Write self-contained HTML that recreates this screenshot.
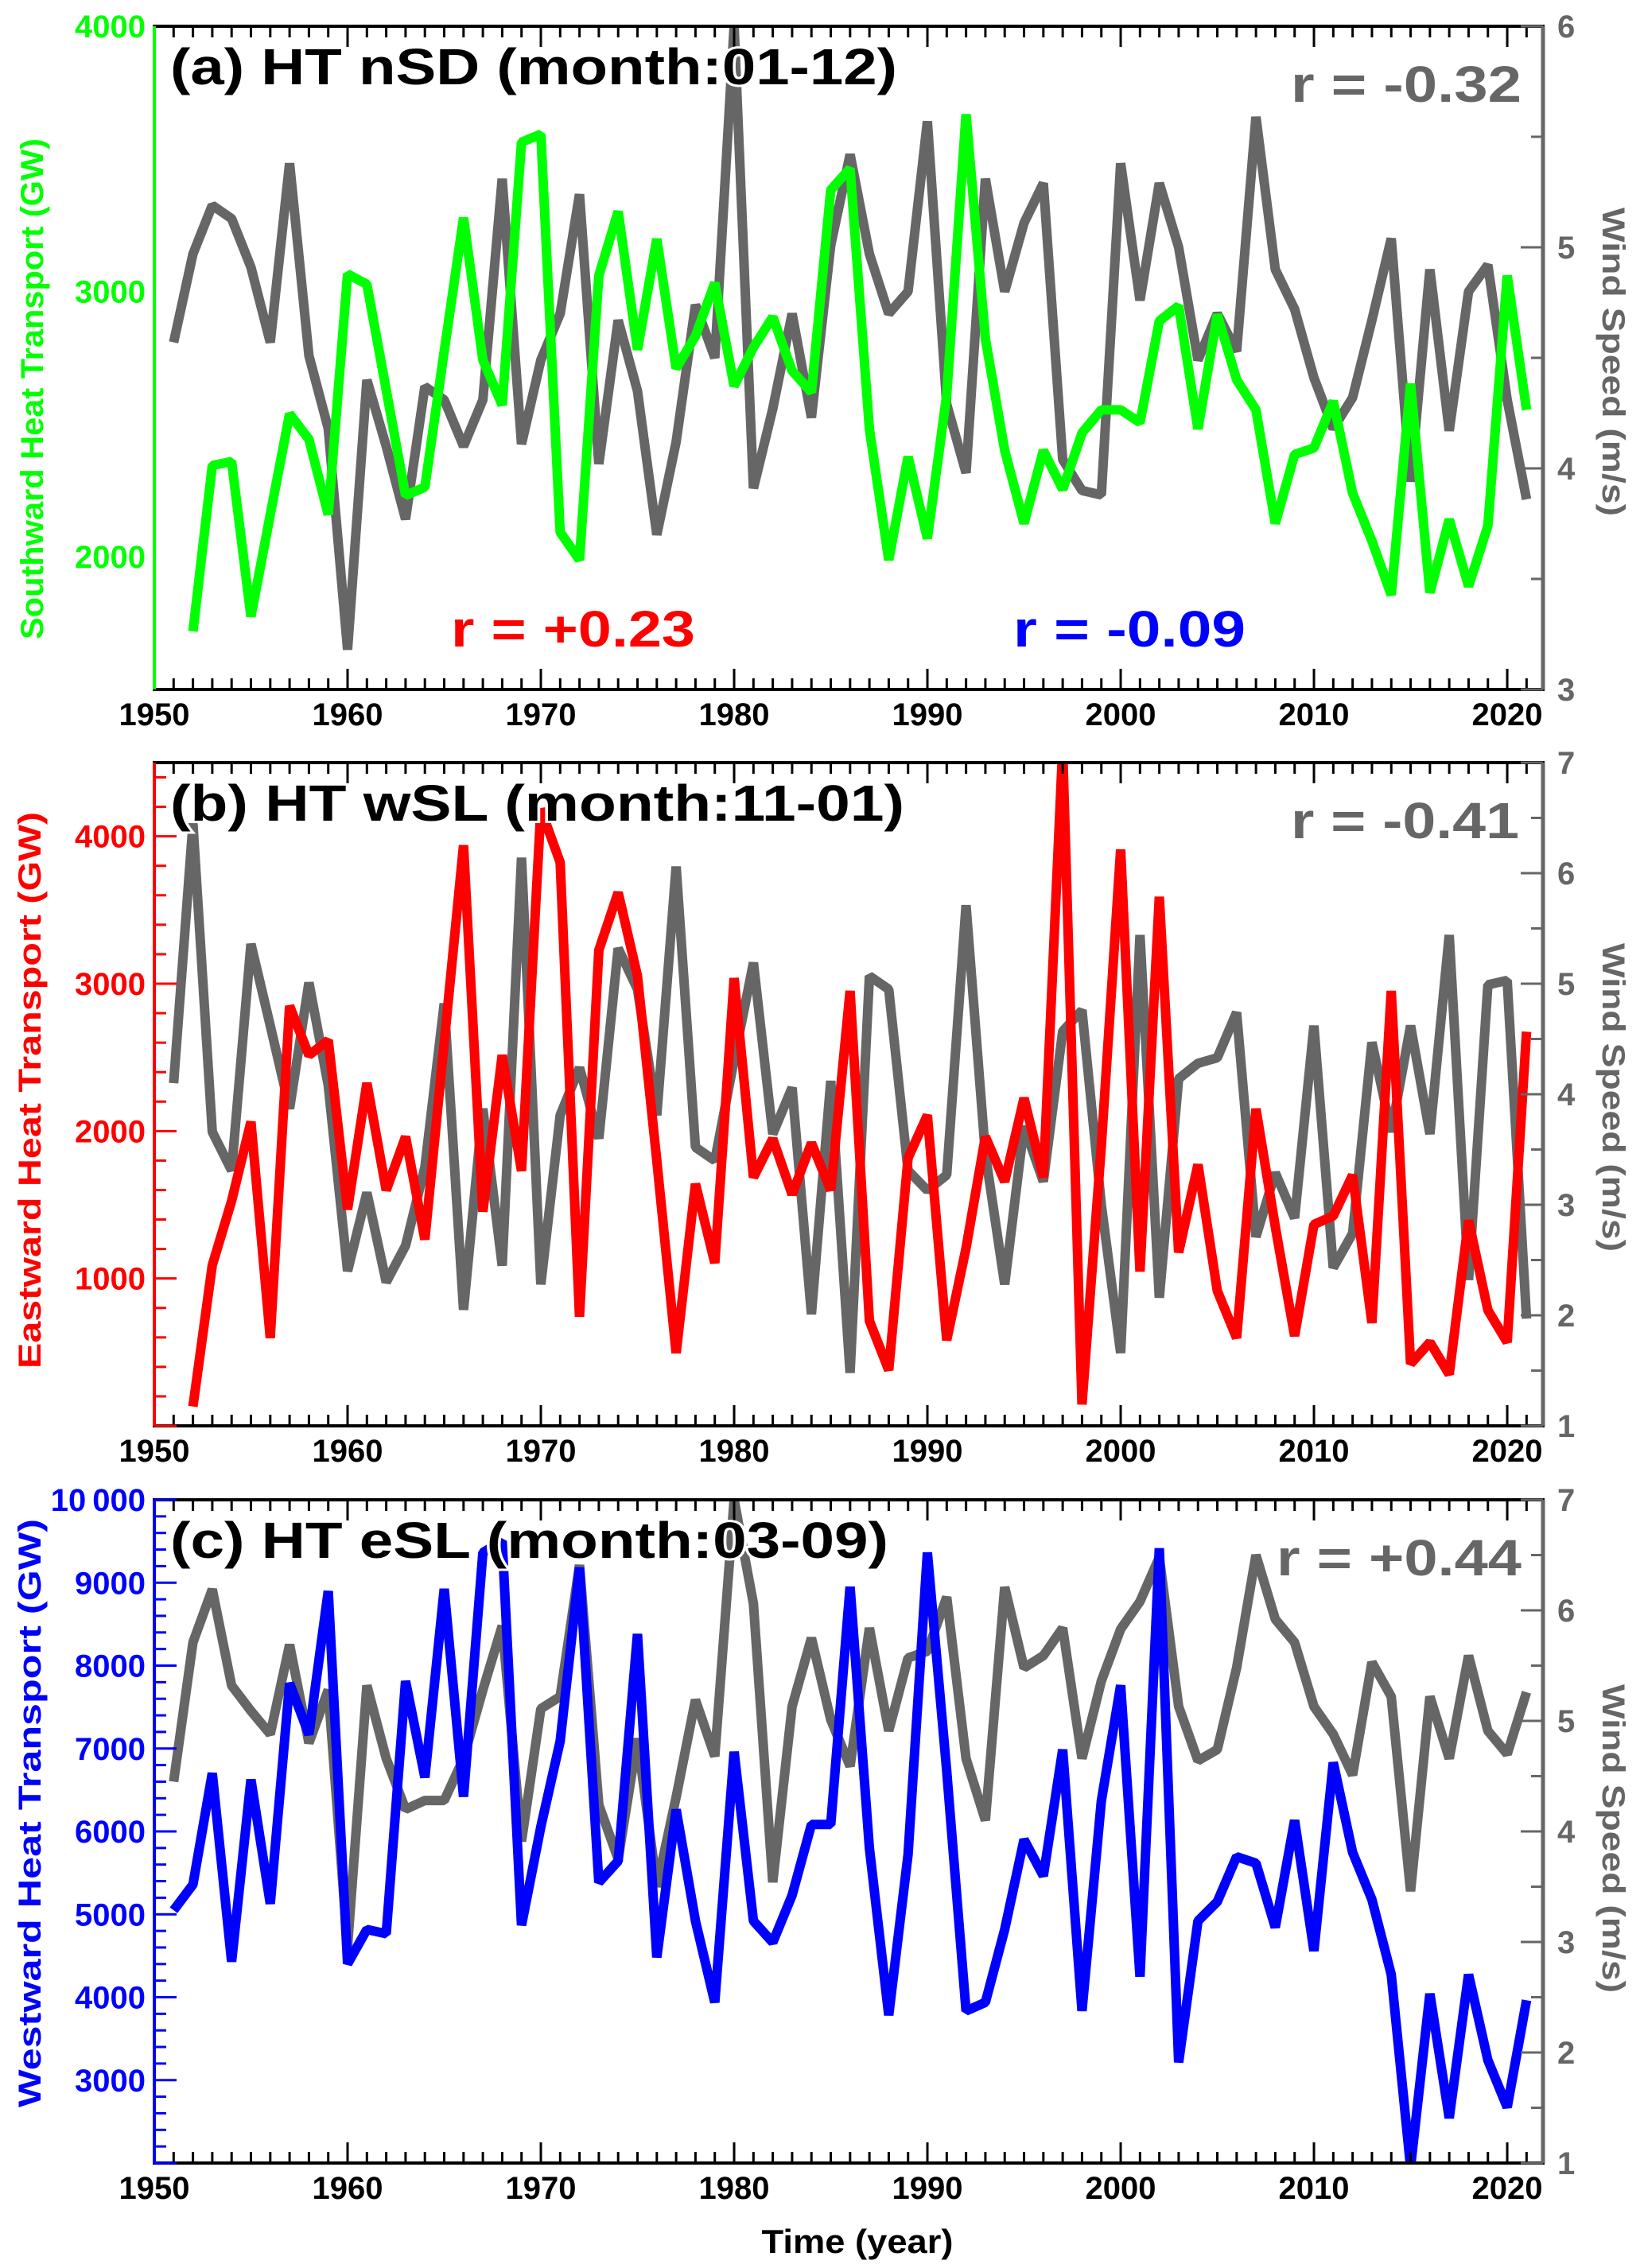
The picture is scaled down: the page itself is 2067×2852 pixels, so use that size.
<!DOCTYPE html>
<html>
<head>
<meta charset="utf-8">
<style>
html,body{margin:0;padding:0;background:#fff;}
svg{display:block;}
text{font-family:"Liberation Sans",Arial,sans-serif;}
</style>
</head>
<body>
<svg id="chart" xmlns="http://www.w3.org/2000/svg" width="2067" height="2852" viewBox="0 0 2067 2852"></svg>
<script>
// ---------------- DATA ----------------
const xStartYear = 1950;
const xEndYear = 2021.85;
const xMajorTicks = [1950, 1960, 1970, 1980, 1990, 2000, 2010, 2020];

// Panel (a)
const windA = [4.57,4.97,5.19,5.13,4.91,4.57,5.38,4.51,4.18,3.18,
  4.40,4.10,3.77,4.37,4.31,4.10,4.31,5.31,4.11,4.49,
  4.70,5.24,4.02,4.67,4.35,3.70,4.12,4.74,4.50,6.0,
  3.91,4.27,4.70,4.23,5.01,5.42,4.97,4.70,4.80,5.57,
  4.29,3.98,5.31,4.80,5.11,5.29,4.04,3.90,3.88,5.38,
  4.76,5.29,5.00,4.49,4.70,4.53,5.59,4.90,4.72,4.41,
  4.18,4.32,4.67,5.04,3.94,4.90,4.17,4.80,4.92,4.31,
  3.86];
const windAStart = 1951;
const heatA = [1719,2344,2359,1775,2159,2539,2443,2159,3066,3027,
  2629,2231,2263,2775,3278,2742,2572,3563,3593,2093,
  1988,3060,3302,2781,3198,2710,2832,3033,2644,2790,
  2904,2701,2620,3383,3464,2482,1988,2377,2069,2611,
  3668,2823,2401,2126,2401,2254,2467,2554,2554,2506,
  2889,2946,2482,2913,2668,2554,2126,2386,2410,2587,
  2240,2060,1856,2653,1865,2141,1889,2117,3060,2554];
const heatAStart = 1952;
const leftTicksA = [2000, 3000, 4000];
const rightTicksA = [3, 4, 5, 6];

// Panel (b)
const windB = [4.10,6.45,3.66,3.31,5.36,4.62,3.87,5.01,4.08,2.40,
  3.11,2.30,2.63,3.34,4.82,2.05,3.87,2.45,6.14,2.28,
  3.81,4.24,3.60,5.32,4.95,3.81,6.06,3.52,3.40,4.31,
  5.19,3.64,4.06,2.01,4.12,1.48,5.07,4.95,3.31,3.13,
  3.27,5.71,3.46,2.28,3.71,3.21,4.57,4.76,3.0,1.66,
  5.44,2.16,4.14,4.28,4.33,4.74,2.71,3.29,2.88,4.62,
  2.43,2.74,4.47,3.66,4.62,3.64,5.44,2.32,4.99,5.03,
  1.97];
const windBStart = 1951;
const heatB = [131,1090,1526,2064,596,2849,2515,2616,1468,2326,
  1599,1962,1265,2602,3939,1453,2515,1730,4186,3823,
  741,3227,3619,3052,1800,494,1642,1105,3038,1686,
  1948,1570,1919,1599,2951,712,378,1817,2108,581,
  1206,1962,1657,2224,1686,4600,145,1900,3910,1047,
  3590,1177,1773,916,596,2151,1352,610,1366,1424,
  1701,698,2951,421,567,349,1395,785,567,2674];
const heatBStart = 1952;
const leftTicksB = [1000, 2000, 3000, 4000];
const rightTicksB = [1, 2, 3, 4, 5, 6, 7];

// Panel (c)
const windC = [4.45,5.71,6.19,5.32,5.09,4.88,5.69,4.80,5.28,2.96,
  5.32,4.66,4.20,4.28,4.28,4.66,5.28,5.86,3.91,5.11,
  5.22,6.41,4.24,3.75,4.84,3.50,4.31,5.19,4.68,7.0,
  6.06,3.54,5.13,5.75,5.01,4.59,5.84,4.91,5.57,5.63,
  6.12,4.66,4.10,6.21,5.48,5.59,5.84,4.66,5.36,5.83,
  6.08,6.48,5.13,4.64,4.74,5.48,6.50,5.92,5.71,5.13,
  4.88,4.51,5.53,5.22,3.46,5.22,4.66,5.59,4.91,4.70,
  5.26];
const windCStart = 1951;
const heatC = [5049,5359,6703,4429,6625,5127,7788,7168,8899,4403,
  4817,4765,7814,6651,8925,6419,9364,9500,4868,6057,
  7090,9183,5385,5643,8382,4481,6264,4920,3938,6961,
  4920,4661,5230,6083,6083,8951,5798,3783,5721,9364,
  6729,3835,3938,4817,5902,5463,6987,3835,6367,7762,
  4248,9416,3214,4920,5152,5695,5617,4842,6134,4558,
  6832,5747,5178,4274,1950,4041,2543,4274,3240,2672,
  3964];
const heatCStart = 1951;
const leftTicksC = [3000, 4000, 5000, 6000, 7000, 8000, 9000, 10000];
const rightTicksC = [1, 2, 3, 4, 5, 6, 7];

// ---------------- DRAWING ----------------
const NS = "http://www.w3.org/2000/svg";
const svg = document.getElementById("chart");
const PL = 194, PR = 1940;
const GRAY = "#666666";

function mk(tag, attrs, parent) {
  const e = document.createElementNS(NS, tag);
  for (const k in attrs) e.setAttribute(k, attrs[k]);
  (parent || svg).appendChild(e);
  return e;
}
function xScale(yr) { return PL + (yr - xStartYear) / (xEndYear - xStartYear) * (PR - PL); }
function linScale(d0, d1, r0, r1) { return v => r0 + (v - d0) / (d1 - d0) * (r1 - r0); }
function fmt(v) { return v >= 10000 ? String(v).replace(/(\d+)(\d{3})$/, "$1\u2009$2") : String(v); }

function drawPanel(p) {
  const g = mk("g", {});
  
  
  const T = p.top, B = p.bottom;
  const yL = linScale(p.lmin, p.lmax, B, T);
  const yR = linScale(p.rmin, p.rmax, B, T);

  const cp = mk("clipPath", { id: "clip-" + p.key }, g);
  mk("rect", { x: PL, y: T, width: PR - PL, height: B - T }, cp);

  const wpts = p.wind.map((v, i) => xScale(p.windStart + i).toFixed(1) + "," + yR(v).toFixed(1)).join(" ");
  const wl = mk("polyline", { points: wpts, fill: "none", stroke: GRAY, "stroke-width": 12, "stroke-linejoin": "bevel", "clip-path": "url(#clip-" + p.key + ")" }, g);
  
  

  const hpts = p.heat.map((v, i) => xScale(p.heatStart + i).toFixed(1) + "," + yL(v).toFixed(1)).join(" ");
  const hl = mk("polyline", { points: hpts, fill: "none", stroke: p.color, "stroke-width": 12, "stroke-linejoin": "bevel", "clip-path": "url(#clip-" + p.key + ")" }, g);
  
  

  mk("line", { x1: PL - 2, y1: T, x2: PR + 2, y2: T, stroke: "#000", "stroke-width": 4 }, g);
  mk("line", { x1: PL - 2, y1: B, x2: PR + 2, y2: B, stroke: "#000", "stroke-width": 4 }, g);
  const la = mk("line", { x1: PL, y1: T, x2: PL, y2: B, stroke: p.color, "stroke-width": 4 }, g);
  
  
  const ra = mk("line", { x1: PR, y1: T, x2: PR, y2: B, stroke: GRAY, "stroke-width": 5 }, g);
  
  

  for (let yr = 1951; yr <= 2021; yr++) {
    const x = xScale(yr);
    const major = yr % 10 === 0;
    const len = major ? 26 : 14;
    mk("line", { x1: x, y1: B, x2: x, y2: B - len, stroke: "#000", "stroke-width": 3 }, g);
    mk("line", { x1: x, y1: T, x2: x, y2: T + len, stroke: "#000", "stroke-width": 3 }, g);
  }
  xMajorTicks.forEach(yr => {
    const t = mk("text", { x: xScale(yr), y: B + 45, "text-anchor": "middle", "font-size": 40, "font-weight": "bold", fill: "#000" }, g);
    t.textContent = yr;
    
    
  });

  for (let v = p.lmin; v <= p.lmax + 0.01; v += 200) {
    if (v % 200 !== 0) continue;
    const y = yL(v);
    const major = v % 1000 === 0;
    mk("line", { x1: PL, y1: y, x2: PL + (major ? 28 : 15), y2: y, stroke: p.color, "stroke-width": 3 }, g);
  }
  p.lticks.forEach(v => {
    const t = mk("text", { x: 183, y: yL(v) + 14, "text-anchor": "end", "font-size": 40, "font-weight": "bold", fill: p.color }, g);
    t.textContent = fmt(v);
    
    
  });
  for (let v = p.rmin; v <= p.rmax + 0.001; v += 0.5) {
    const y = yR(v);
    const major = Math.abs(v - Math.round(v)) < 0.01;
    mk("line", { x1: PR, y1: y, x2: PR - (major ? 28 : 15), y2: y, stroke: GRAY, "stroke-width": 3 }, g);
  }
  p.rticks.forEach(v => {
    const t = mk("text", { x: 1958, y: yR(v) + 14, "text-anchor": "start", "font-size": 40, "font-weight": "bold", fill: GRAY }, g);
    t.textContent = v;
    
    
  });

  const lt = mk("text", { x: 0, y: 0, transform: "translate(" + (p.ltX + 14) + "," + p.ltY + ") rotate(-90)", "text-anchor": "middle", "font-size": 40, "font-weight": "bold", fill: p.color, textLength: p.ltLen, lengthAdjust: "spacingAndGlyphs" }, g);
  lt.textContent = p.ltitle;
  
  
  const rt = mk("text", { x: 0, y: 0, transform: "translate(" + (2029 - 14) + "," + p.rtY + ") rotate(90)", "text-anchor": "middle", "font-size": 40, "font-weight": "bold", fill: GRAY, textLength: 388, lengthAdjust: "spacingAndGlyphs" }, g);
  rt.textContent = "Wind Speed (m/s)";
  
  

  const pt = mk("text", { x: 214, y: T + 73, "font-size": 64, "font-weight": "bold", fill: "#000", stroke: "#fff", "stroke-width": 6, "paint-order": "stroke", textLength: p.titleLen, lengthAdjust: "spacingAndGlyphs" }, g);
  pt.textContent = p.title;
  
  

  p.rlabels.forEach(r => {
    const t = mk("text", { x: r.x, y: r.y, "font-size": 64, "font-weight": "bold", fill: r.color, stroke: "#fff", "stroke-width": 4, "paint-order": "stroke", textLength: r.len, lengthAdjust: "spacingAndGlyphs" }, g);
    t.textContent = r.text;
    
    
  });
}

drawPanel({ key: "panel-a", top: 33, bottom: 867, lmin: 1500, lmax: 4000, rmin: 3, rmax: 6,
  color: "#00ff00", wind: windA, windStart: windAStart, heat: heatA, heatStart: heatAStart,
  lticks: leftTicksA, rticks: rightTicksA,
  ltitle: "Southward Heat Transport (GW)", ltX: 40, ltY: 489, ltLen: 630, rtY: 455,
  title: "(a) HT nSD (month:01-12)", titleLen: 914,
  rlabels: [
    { text: "r = -0.32", x: 1623, y: 128, color: GRAY, len: 290 },
    { text: "r = +0.23", x: 567, y: 813, color: "#ff0000", len: 307 },
    { text: "r = -0.09", x: 1274, y: 813, color: "#0000ff", len: 292 }
  ] });

drawPanel({ key: "panel-b", top: 959, bottom: 1793, lmin: 0, lmax: 4500, rmin: 1, rmax: 7,
  color: "#ff0000", wind: windB, windStart: windBStart, heat: heatB, heatStart: heatBStart,
  lticks: leftTicksB, rticks: rightTicksB,
  ltitle: "Eastward Heat Transport (GW)", ltX: 37, ltY: 1371, ltLen: 700, rtY: 1380,
  title: "(b) HT wSL (month:11-01)", titleLen: 923,
  rlabels: [ { text: "r = -0.41", x: 1623, y: 1054, color: GRAY, len: 287 } ] });

drawPanel({ key: "panel-c", top: 1886, bottom: 2720, lmin: 2000, lmax: 10000, rmin: 1, rmax: 7,
  color: "#0000ff", wind: windC, windStart: windCStart, heat: heatC, heatStart: heatCStart,
  lticks: leftTicksC, rticks: rightTicksC,
  ltitle: "Westward Heat Transport (GW)", ltX: 37, ltY: 2280, ltLen: 740, rtY: 2312,
  title: "(c) HT eSL (month:03-09)", titleLen: 903,
  rlabels: [ { text: "r = +0.44", x: 1605, y: 1981, color: GRAY, len: 308 } ] });

const xt = mk("text", { x: 1078, y: 2833, "text-anchor": "middle", "font-size": 42, "font-weight": "bold", fill: "#000", textLength: 241, lengthAdjust: "spacingAndGlyphs" });
xt.textContent = "Time (year)";


</script>
</body>
</html>
